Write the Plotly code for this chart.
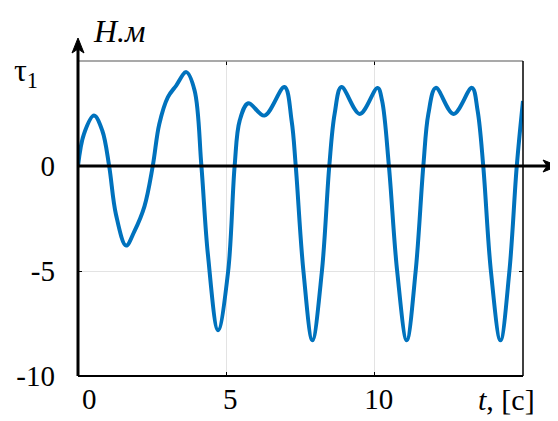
import plotly.graph_objects as go

# Data
t_vals = [0, 0.2, 0.54, 0.82, 1.05, 1.28, 1.62, 1.9, 2.24, 2.52, 2.74, 3.03, 3.31, 3.65, 3.93,
          4.16, 4.38, 4.72, 5.06, 5.28, 5.45, 5.74, 6.28, 6.96, 7.2, 7.34, 7.6, 7.9, 8.22, 8.47,
          8.65, 8.88, 9.5, 10.1, 10.25, 10.48, 10.76, 11.08, 11.38, 11.64, 11.81, 12.06, 12.66,
          13.28, 13.47, 13.66, 13.92, 14.24, 14.54, 14.79, 15.0]
tau_vals = [0, 1.52, 2.4, 1.68, 0, -2.31, -3.79, -3.11, -1.92, 0, 2.0, 3.28, 3.83, 4.47, 3.6,
            0, -4.23, -7.82, -5.03, 0, 2.16, 2.99, 2.40, 3.76, 2.16, 0, -5.03, -8.3, -5.03, 0,
            2.48, 3.76, 2.48, 3.72, 3.11, 0, -5.03, -8.3, -5.03, 0, 2.48, 3.72, 2.48,
            3.72, 2.64, 0, -5.03, -8.3, -5.03, 0, 3.1]

x_tickvals = [0, 5, 10]
x_ticktext = ["\u20020", "5", "10"]
y_tickvals = [-10, -5, 0]
y_ticktext = ["-10", "-5", "0"]

FONT = "Liberation Serif"

fig = go.Figure()
fig.add_trace(go.Scatter(x=t_vals, y=tau_vals, mode="lines",
                         line=dict(color="#0072BD", width=4, shape="spline", smoothing=1.0),
                         showlegend=False, hoverinfo="skip"))

# page body adds an 8px offset; figure sized so the plot area lands where the reference has it
fig.update_layout(
    width=550, height=413,
    margin=dict(l=70, r=35, t=53, b=45, autoexpand=False),
    paper_bgcolor="white", plot_bgcolor="white",
    font=dict(family=FONT, size=29, color="black"),
    xaxis=dict(range=[0, 15], tickvals=x_tickvals, ticktext=x_ticktext, automargin=False,
               showgrid=True, gridcolor="#e3e3e3", gridwidth=1, zeroline=False,
               showline=False, ticks="inside", ticklen=4, tickcolor="black", tickwidth=1,
               mirror="ticks", ticklabelshift=4, ticklabelstandoff=3),
    yaxis=dict(range=[-10, 5], tickvals=y_tickvals, ticktext=y_ticktext, automargin=False,
               showgrid=True, gridcolor="#e3e3e3", gridwidth=1, zeroline=False,
               showline=False, ticks="inside", ticklen=4, tickcolor="black", tickwidth=1,
               mirror="ticks", ticklabelstandoff=22),
)

# box: top (gray), right and bottom (black)
fig.add_shape(type="line", xref="x domain", yref="y domain", x0=0, x1=1, y0=1, y1=1,
              line=dict(color="#8c8c8c", width=1.5), layer="above")
fig.add_shape(type="line", xref="x domain", yref="y domain", x0=1, x1=1, y0=0, y1=1,
              line=dict(color="black", width=1.5), layer="above")
fig.add_shape(type="line", xref="x domain", yref="y domain", x0=0, x1=1, y0=0, y1=0,
              line=dict(color="black", width=2), layer="above")

# axis lines with arrowheads
fig.add_shape(type="line", xref="paper", yref="y", x0=0, x1=1.06, y0=0, y1=0,
              line=dict(color="black", width=3), layer="above")
fig.add_shape(type="path", xref="paper", yref="y", xsizemode="pixel", ysizemode="pixel",
              xanchor=1.0787, yanchor=0, path="M 0 0 L -15 6 L -11 0 L -15 -6 Z",
              fillcolor="black", line=dict(color="black", width=1), layer="above")
fig.add_shape(type="line", xref="paper", yref="paper", x0=0, x1=0, y0=0, y1=1.05,
              line=dict(color="black", width=3), layer="above")
fig.add_shape(type="path", xref="paper", yref="paper", xsizemode="pixel", ysizemode="pixel",
              xanchor=0, yanchor=1.073, path="M 0 0 L -6 -15 L 0 -11 L 6 -15 Z",
              fillcolor="black", line=dict(color="black", width=1), layer="above")

# labels
fig.add_annotation(xref="paper", yref="paper", x=0.094, y=1.095, text="<i>Н.м</i>",
                   showarrow=False, font=dict(family=FONT, size=32, color="black"),
                   xanchor="center", yanchor="middle")
fig.add_annotation(xref="paper", yref="paper", x=0.962, y=-0.076, text="<i>t</i>, [с]",
                   showarrow=False, font=dict(family=FONT, size=30, color="black"),
                   xanchor="center", yanchor="middle")
fig.add_annotation(xref="paper", yref="paper", x=-0.117, y=0.965, text="τ<sub>1</sub>",
                   showarrow=False, font=dict(family=FONT, size=32, color="black"),
                   xanchor="center", yanchor="middle")

fig.write_html("out.html")
